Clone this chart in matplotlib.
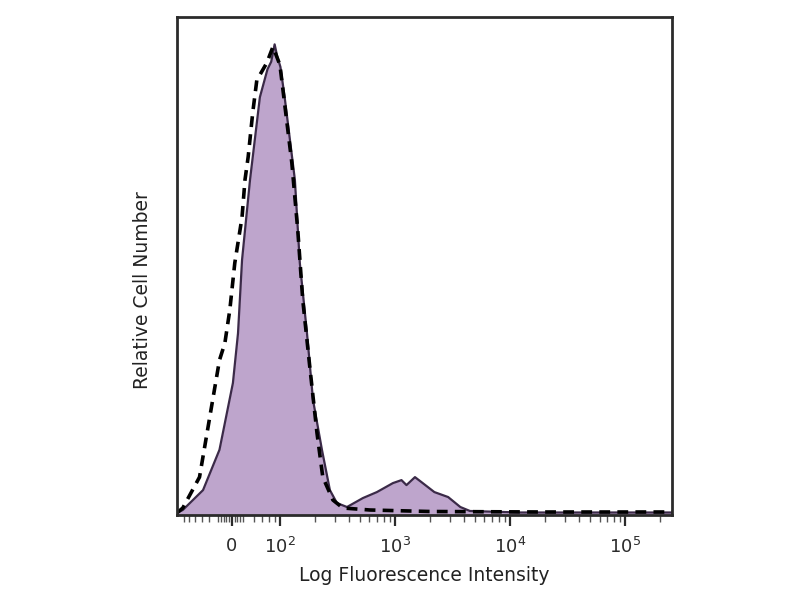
import numpy as np
import matplotlib
matplotlib.use("Agg")
import matplotlib.pyplot as plt

# stained sample (filled histogram)
stain_x = [-115, -102, -68, -46, 4, 23, 38, 55, 67, 78, 84, 90, 95, 101, 110, 135, 149, 172,
           194, 232, 272, 313, 383, 527, 697, 960, 1140, 1260, 1493, 1700, 2200, 2900,
           3700, 4488, 12200, 60600, 256000]
stain_y = [0.4, 1.0, 5.0, 13.1, 26.5, 36.5, 51.2, 67.3, 83.9, 89.5, 91.0, 94.5, 92.0, 90.0,
           83.9, 67.3, 50.6, 36.5, 23.1, 13.1, 5.0, 2.4, 1.6, 3.4, 4.6, 6.4, 7.0, 6.0, 7.6,
           6.6, 4.6, 3.6, 1.6, 0.8, 0.5, 0.5, 0.5]

# isotype control (dashed histogram)
ctrl_x = [-115, -102, -73, -46, -26, -7.5, 11, 38, 49, 53, 58, 63, 77, 87, 100, 127, 143,
          158, 182, 210, 236, 289, 353, 606, 2000, 20000, 256000]
ctrl_y = [0.4, 1.4, 7.6, 31.1, 34.5, 41.2, 50.6, 59.8, 67.3, 71.9, 80.7, 87.3, 90.8, 94.0,
          90.4, 70.7, 57.2, 43.2, 29.7, 16.5, 7.6, 3.0, 1.4, 1.0, 0.7, 0.6, 0.6]

major_ticks = [0, 1e2, 1e3, 1e4, 1e5]
major_labels = ["0", r"$10^2$", r"$10^3$", r"$10^4$", r"$10^5$"]

fig = plt.figure(figsize=(8, 6), dpi=100)
ax = fig.add_axes([0.221, 0.1417, 0.619, 0.83])

ax.set_xscale("symlog", linthresh=50, linscale=0.105)
ax.fill_between(stain_x, stain_y, 0, color="#bea5cc", lw=0)
ax.plot(stain_x, stain_y, color="#3b2a48", lw=1.6)
ax.plot(ctrl_x, ctrl_y, color="black", lw=2.6, dashes=(3, 2))

ax.set_xlim(-115, 256000)
ax.set_ylim(0, 100)

ax.set_xticks(major_ticks)
ax.set_xticklabels(major_labels)
minor = [-100, -90, -80, -70, -60, -50, -40, -30, -20, -10, 10, 20, 30, 40, 60, 70, 80, 90]
for dec in [100, 1000, 10000, 100000]:
    minor += [dec * k for k in range(2, 10) if dec * k < 256000]
ax.set_xticks(minor, minor=True)
ax.set_yticks([])

ax.tick_params(axis="x", which="major", direction="out", length=8, width=1.6,
               colors="#2b2b2b", labelsize=13, pad=8)
ax.tick_params(axis="x", which="minor", direction="out", length=5, width=1.0,
               colors="#555555")
for sp in ax.spines.values():
    sp.set_color("#2b2b2b")
    sp.set_linewidth(2)

ax.set_xlabel("Log Fluorescence Intensity", fontsize=13.5, color="#222222", labelpad=6)
fig.text(0.178, 0.517, "Relative Cell Number", rotation=90, fontsize=13.5,
         color="#222222", ha="center", va="center")

fig.savefig("out.png", dpi=100)
